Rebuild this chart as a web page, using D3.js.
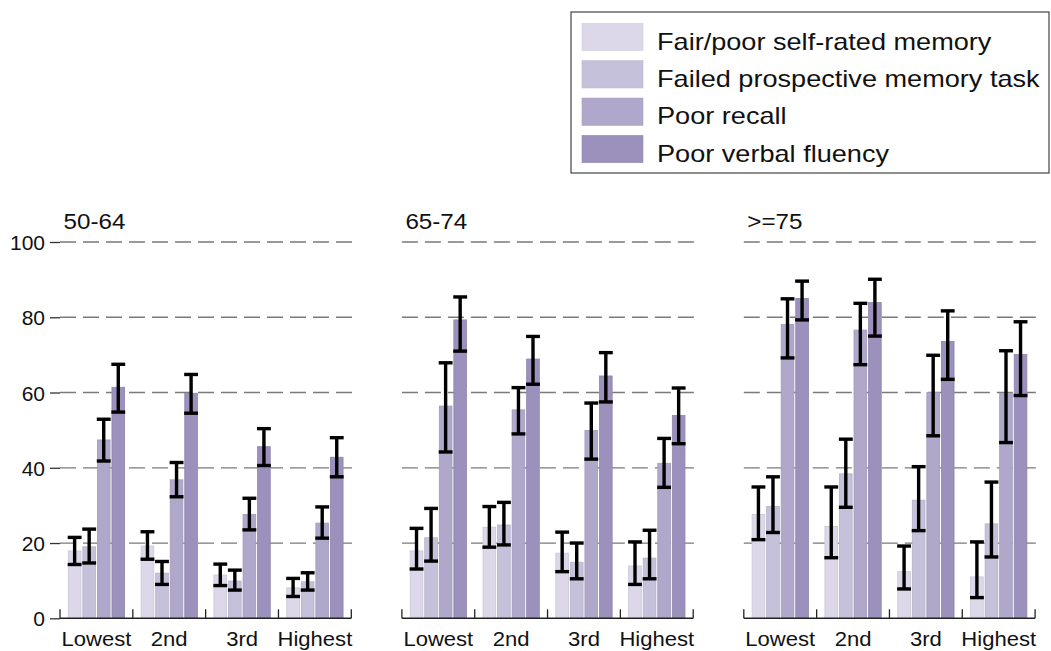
<!DOCTYPE html>
<html>
<head>
<meta charset="utf-8">
<script src="https://cdn.jsdelivr.net/npm/d3@7"></script>
<style>
  html, body { margin: 0; padding: 0; background: #fff; }
  svg { display: block; font-family: "Liberation Sans", Arial, sans-serif; }
</style>
</head>
<body>
<svg id="chart" width="1051" height="651"></svg>
<script>
// ---------- data ----------
const ageGroups = ["50-64", "65-74", ">=75"];
const quartiles = ["Lowest", "2nd", "3rd", "Highest"];
const seriesNames = ["Fair/poor self-rated memory", "Failed prospective memory task", "Poor recall", "Poor verbal fluency"];
const seriesColors = ["#dcd8e9", "#c6c1da", "#b0a8cb", "#9c91bc"];
const yTicks = [0, 20, 40, 60, 80, 100];

// estimates: [series][quartile]
const est_50_64 = [[17.9, 19.2, 11.5, 8.1], [19.0, 12.0, 9.9, 9.7], [47.4, 36.8, 27.6, 25.3], [61.4, 59.8, 45.6, 42.8]];
const lo_50_64  = [[14.3, 15.7, 8.7, 5.8], [14.7, 9.0, 7.5, 7.5], [41.8, 32.3, 23.5, 21.3], [54.8, 54.5, 40.6, 37.6]];
const hi_50_64  = [[21.5, 23.0, 14.4, 10.6], [23.7, 15.1, 12.8, 12.1], [52.9, 41.4, 31.9, 29.6], [67.5, 64.8, 50.4, 48.0]];

const est_65_74 = [[17.9, 24.2, 17.3, 13.9], [21.4, 24.8, 14.9, 16.0], [56.4, 55.4, 49.9, 41.2], [79.3, 68.9, 64.4, 53.9]];
const lo_65_74  = [[13.1, 18.9, 12.4, 9.0], [15.2, 19.5, 10.5, 10.5], [44.2, 49.0, 42.3, 34.8], [71.0, 62.2, 57.5, 46.4]];
const hi_65_74  = [[23.9, 29.7, 22.9, 20.3], [29.2, 30.8, 20.0, 23.4], [67.9, 61.3, 57.2, 47.8], [85.4, 74.9, 70.6, 61.2]];

const est_75 = [[27.6, 24.4, 12.4, 11.0], [29.7, 38.4, 31.4, 25.1], [78.1, 76.6, 60.0, 59.8], [85.0, 83.9, 73.6, 70.1]];
const lo_75  = [[20.9, 16.1, 7.8, 5.5], [22.8, 29.5, 23.3, 16.3], [69.2, 67.4, 48.5, 46.7], [79.3, 75.0, 63.5, 59.2]];
const hi_75  = [[34.9, 34.9, 19.2, 20.3], [37.6, 47.6, 40.3, 36.2], [84.9, 83.7, 69.9, 71.1], [89.6, 90.1, 81.7, 78.8]];

const panelsData = [
  { title: ageGroups[0], est: est_50_64, lo: lo_50_64, hi: hi_50_64 },
  { title: ageGroups[1], est: est_65_74, lo: lo_65_74, hi: hi_65_74 },
  { title: ageGroups[2], est: est_75, lo: lo_75, hi: hi_75 }
];

// ---------- layout ----------
const svg = d3.select("#chart");
const y = d3.scaleLinear().domain([0, 100]).range([618.3, 242]);
const panelX = d3.scaleBand().domain(ageGroups).range([60, 1085.7]).paddingInner(0).paddingOuter(0);
const panelW = 291.3;

const x1 = d3.scaleBand().domain(d3.range(4)).range([8.3, 64.6]).paddingInner(0.13);

panelsData.forEach((p, pi) => {
  const px = panelX(p.title);
  const g = svg.append("g");
  const x0 = d3.scaleBand().domain(quartiles).range([px, px + panelW]).padding(0);

  // gridlines
  g.append("g").selectAll("line").data(yTicks.filter(t => t > 0)).join("line")
    .attr("x1", px).attr("x2", px + panelW + 1)
    .attr("y1", d => y(d)).attr("y2", d => y(d))
    .attr("stroke", "#7a7a7a").attr("stroke-width", 1.3)
    .attr("stroke-dasharray", "16,7");

  // y axis on first panel
  if (pi === 0) {
    const ax = g.append("g").attr("transform", `translate(${px},0)`)
      .call(d3.axisLeft(y).tickValues(yTicks).tickSize(10).tickPadding(5));
    ax.select(".domain").remove();
    ax.selectAll(".tick line").attr("stroke", "#333").attr("stroke-width", 1.3);
    ax.selectAll(".tick text").attr("font-size", 21).attr("fill", "#111")
      .attr("font-family", "Liberation Sans, Arial, sans-serif").attr("dy", "0.36em");
  }

  // bars
  quartiles.forEach((q, qi) => {
    const gx = x0(q);
    seriesNames.forEach((s, si) => {
      const bx = gx + x1(si);
      const bw = x1.bandwidth();
      g.append("rect")
        .attr("x", bx).attr("width", bw)
        .attr("y", y(p.est[si][qi])).attr("height", y(0) - y(p.est[si][qi]))
        .attr("fill", seriesColors[si])
        .attr("stroke", d3.color(seriesColors[si]).darker(0.25))
        .attr("stroke-width", 0.8);
    });
  });

  // error bars
  quartiles.forEach((q, qi) => {
    const gx = x0(q);
    seriesNames.forEach((s, si) => {
      const cx = gx + x1(si) + x1.bandwidth() / 2;
      const hw = x1.bandwidth() / 2 + 0.6;
      const eg = g.append("g").attr("stroke", "#000").attr("stroke-width", 3.4);
      eg.append("line").attr("x1", cx).attr("x2", cx).attr("y1", y(p.lo[si][qi])).attr("y2", y(p.hi[si][qi]));
      eg.append("line").attr("x1", cx - hw).attr("x2", cx + hw).attr("y1", y(p.lo[si][qi])).attr("y2", y(p.lo[si][qi]));
      eg.append("line").attr("x1", cx - hw).attr("x2", cx + hw).attr("y1", y(p.hi[si][qi])).attr("y2", y(p.hi[si][qi]));
    });
  });

  // x axis
  g.append("line").attr("x1", px).attr("x2", px + panelW)
    .attr("y1", y(0)).attr("y2", y(0)).attr("stroke", "#222").attr("stroke-width", 1.5);
  const bounds = quartiles.map(q => x0(q)).concat([px + panelW]);
  g.append("g").selectAll("line").data(bounds).join("line")
    .attr("x1", d => d).attr("x2", d => d)
    .attr("y1", y(0)).attr("y2", y(0) - 9)
    .attr("stroke", "#222").attr("stroke-width", 1.3);
  g.append("g").selectAll("text").data(quartiles).join("text")
    .attr("transform", d => `translate(${x0(d) + x0.bandwidth() / 2},646) scale(1.05,1)`)
    .attr("text-anchor", "middle").attr("font-size", 21).attr("fill", "#111")
    .text(d => d);

  // panel title
  g.append("text")
    .attr("transform", `translate(${px + 3.5},229) scale(1.1,1)`)
    .attr("font-size", 22).attr("fill", "#111").text(p.title);
});

// ---------- legend ----------
const lg = svg.append("g");
lg.append("rect").attr("x", 571).attr("y", 12).attr("width", 478).attr("height", 161)
  .attr("fill", "#fff").attr("stroke", "#444").attr("stroke-width", 1.2);
const legY = d3.scaleBand().domain(seriesNames).range([18.5, 167.5]).paddingInner(0.27).paddingOuter(0.13);
seriesNames.forEach((s, i) => {
  const yy = legY(s);
  lg.append("rect").attr("x", 582).attr("y", yy).attr("width", 61).attr("height", legY.bandwidth())
    .attr("fill", seriesColors[i]).attr("stroke", d3.color(seriesColors[i]).darker(0.15)).attr("stroke-width", 0.6);
  lg.append("text")
    .attr("transform", `translate(657,${yy + legY.bandwidth() / 2 + 12.8}) scale(1.13,1)`)
    .attr("font-size", 24).attr("fill", "#111").text(s);
});
</script>
</body>
</html>
